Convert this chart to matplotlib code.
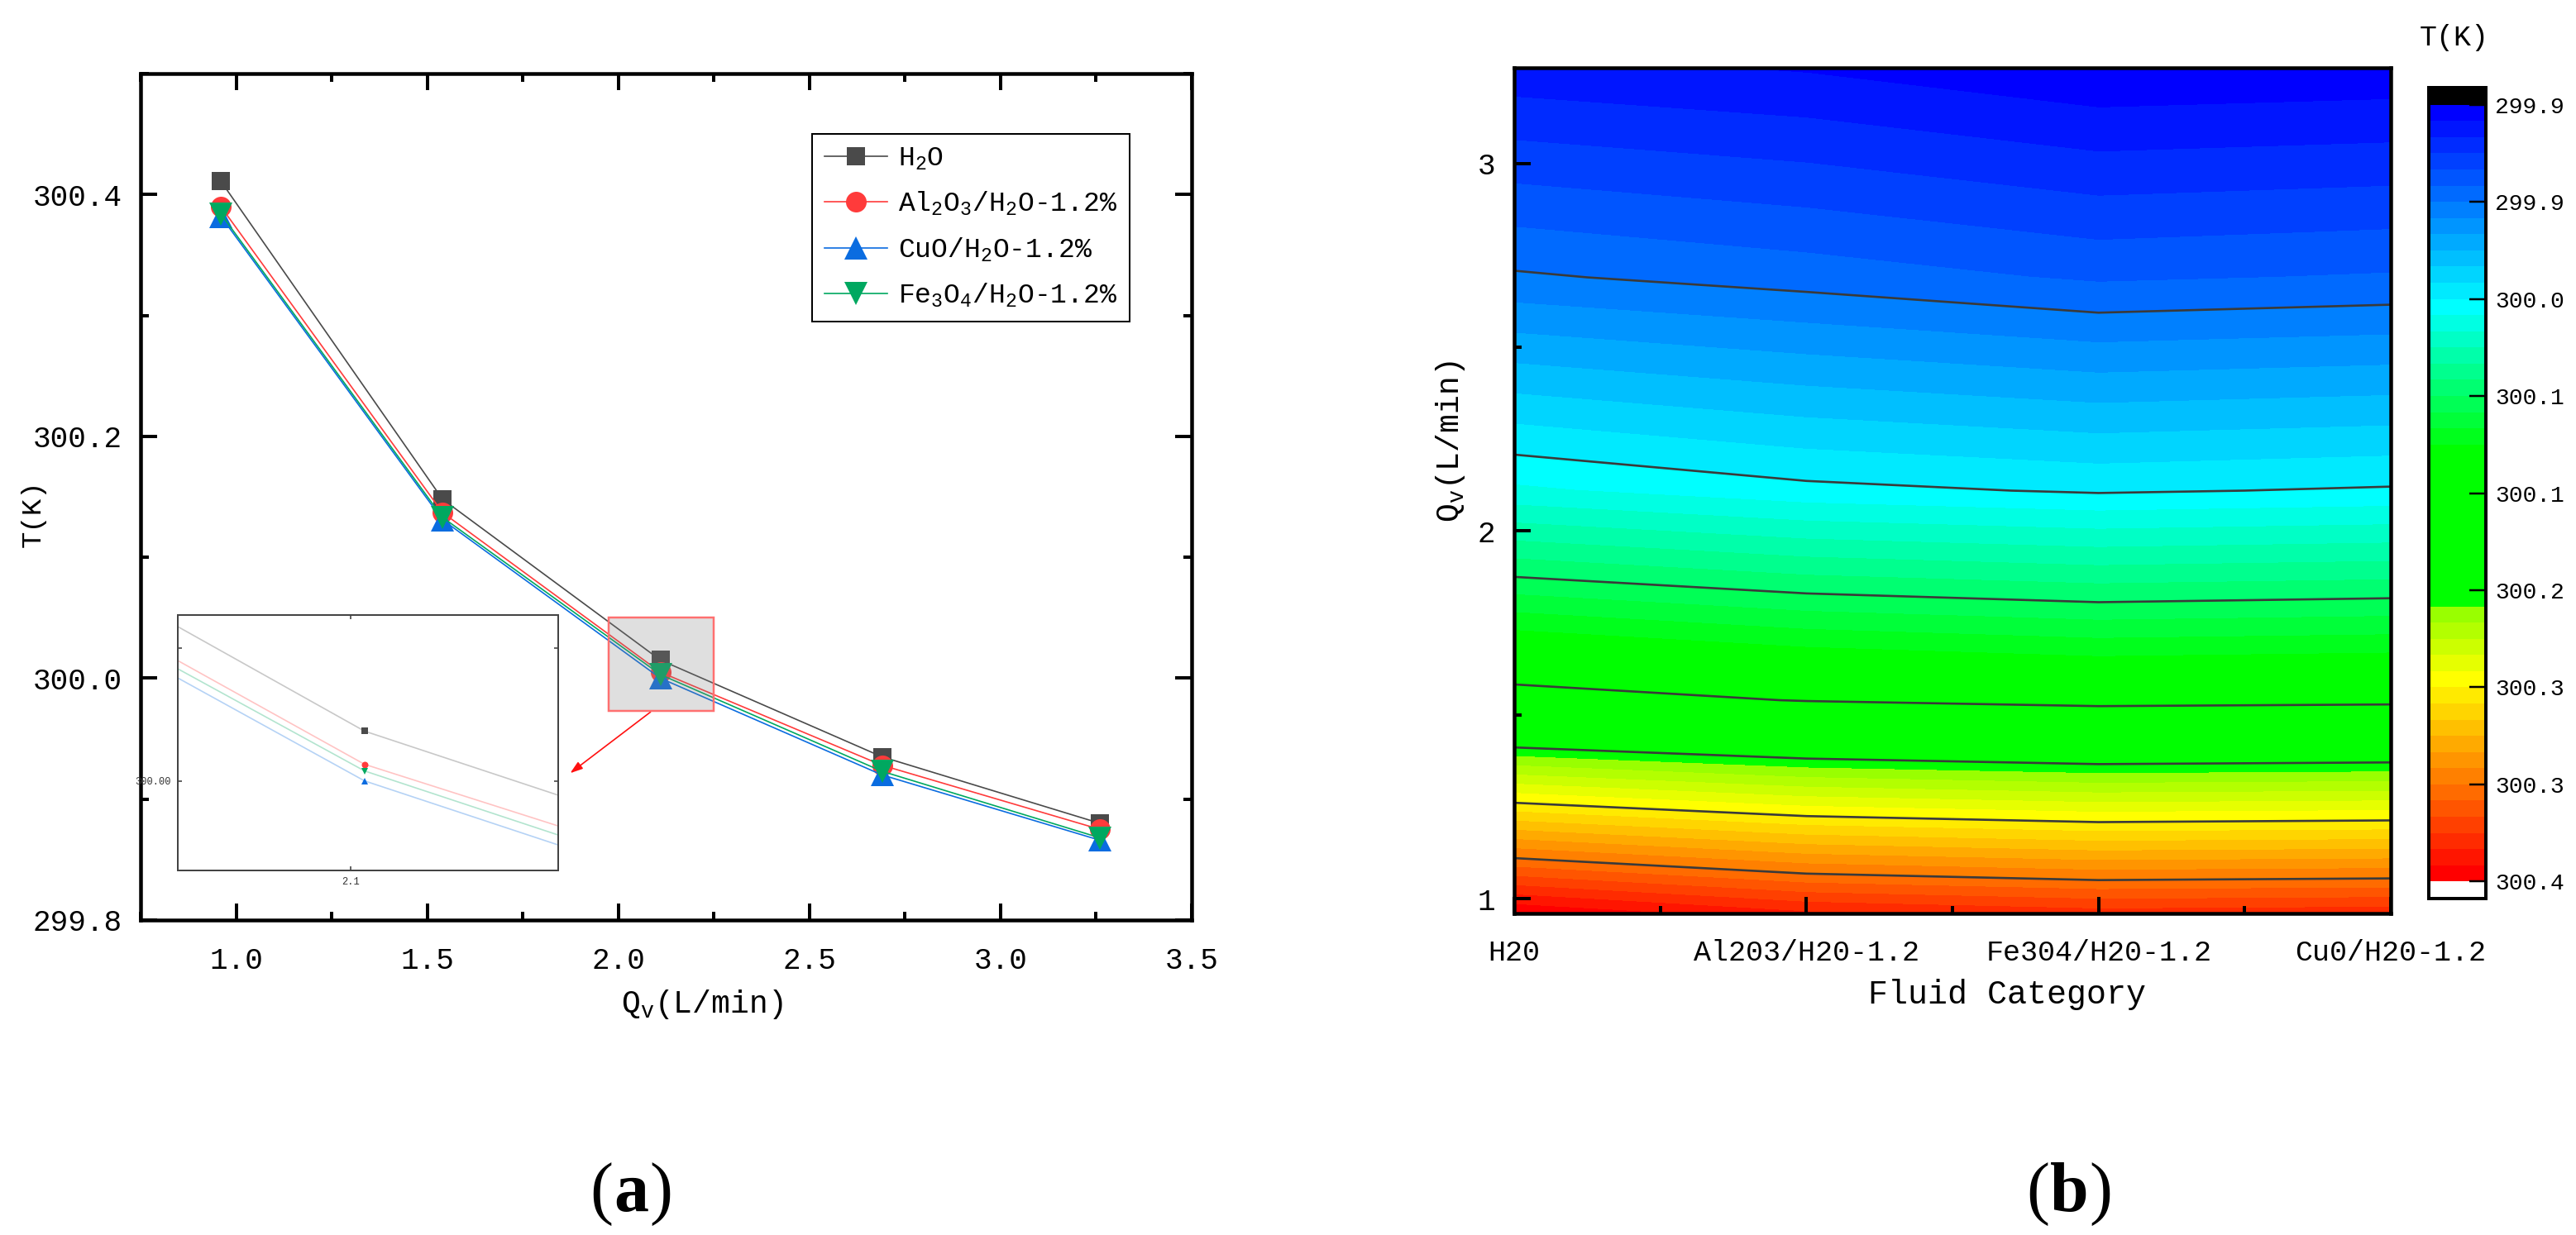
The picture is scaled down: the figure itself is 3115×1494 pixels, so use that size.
import numpy as np
import matplotlib
matplotlib.use("Agg")
import matplotlib.pyplot as plt
from matplotlib.colors import LinearSegmentedColormap, BoundaryNorm
from matplotlib.ticker import MultipleLocator, FixedLocator, FixedFormatter, FormatStrFormatter
from matplotlib.patches import Rectangle
from matplotlib.cm import ScalarMappable

FONT = "Liberation Mono"
plt.rcParams["font.family"] = [FONT, "DejaVu Sans Mono"]
plt.rcParams["mathtext.fontset"] = "custom"
plt.rcParams["mathtext.rm"] = FONT
plt.rcParams["mathtext.it"] = FONT + ":italic"
plt.rcParams["mathtext.bf"] = FONT + ":bold"

flow_rate = [0.96, 1.54, 2.11, 2.69, 3.26]
t_h2o = [300.411, 300.148, 300.015, 299.935, 299.880]
t_al2o3 = [300.390, 300.137, 300.005, 299.928, 299.875]
t_cuo = [300.382, 300.131, 300.000, 299.920, 299.866]
t_fe3o4 = [300.384, 300.133, 300.003, 299.923, 299.868]

series_names = [r"H$_2$O", r"Al$_2$O$_3$/H$_2$O-1.2%", r"CuO/H$_2$O-1.2%", r"Fe$_3$O$_4$/H$_2$O-1.2%"]
series_values = [t_h2o, t_al2o3, t_cuo, t_fe3o4]
series_colors = ["#4a4a4a", "#ff3b3b", "#0a6ce0", "#00a860"]
series_markers = ["s", "o", "^", "v"]
series_sizes = [22, 25, 28, 28]

categories = ["H20", "Al203/H20-1.2", "Fe304/H20-1.2", "Cu0/H20-1.2"]
category_pos = [1, 2, 3, 4]
# columns follow the contour chart's order
contour_columns = [t_h2o, t_al2o3, t_cuo, t_fe3o4]

cbar_labels = ["299.9", "299.9", "300.0", "300.1", "300.1", "300.2", "300.3", "300.3", "300.4"]
cbar_min, cbar_max = 299.865, 300.411

W, H = 3115, 1494
fig = plt.figure(figsize=(W / 100, H / 100), dpi=100)

def axes_px(l, t, r, b):
    return fig.add_axes([l / W, 1 - b / H, (r - l) / W, (b - t) / H])

def px(v):
    return v * 0.72

# ---------- panel a
L, T, R, B = 170, 89, 1441, 1113
ax = axes_px(L, T, R, B)
for vals, name, c, m, ms in zip(series_values, series_names, series_colors, series_markers, series_sizes):
    ax.plot(flow_rate, vals, color=c, lw=1.2, marker=m, ms=px(ms), mew=0, label=name)
ax.set_xlim(0.75, 3.5)
ax.set_ylim(299.8, 300.5)
ax.xaxis.set_major_locator(MultipleLocator(0.5))
ax.xaxis.set_minor_locator(MultipleLocator(0.25))
ax.yaxis.set_major_locator(MultipleLocator(0.2))
ax.yaxis.set_minor_locator(MultipleLocator(0.1))
ax.xaxis.set_major_formatter(FormatStrFormatter("%.1f"))
ax.yaxis.set_major_formatter(FormatStrFormatter("%.1f"))
ax.tick_params(which="major", direction="in", length=px(20), width=px(4), top=True, right=True, labelsize=px(36))
ax.tick_params(axis="x", which="major", pad=px(32))
ax.tick_params(axis="y", which="major", pad=px(22))
ax.tick_params(which="minor", direction="in", length=px(10), width=px(4), top=True, right=True)
for s in ax.spines.values():
    s.set_linewidth(px(4.5))
ax.set_xlabel(r"Q$_{\mathrm{v}}$(L/min)", fontsize=px(38), va="center")
ax.xaxis.set_label_coords((849 - L) / (R - L), 1 - (1215 - T) / (B - T))
ax.set_ylabel("T(K)", fontsize=px(34), va="center")
ax.yaxis.set_label_coords((40 - L) / (R - L), 1 - (621 - T) / (B - T))

leg = ax.legend(loc="upper left", bbox_to_anchor=((982 - L) / (R - L), 1 - (162 - T) / (B - T)), bbox_transform=ax.transAxes,
                fontsize=px(33), frameon=True, fancybox=False, framealpha=1, edgecolor="black",
                borderaxespad=0, borderpad=0.45, handlelength=2.3, handletextpad=0.4, labelspacing=0.66, numpoints=1)
leg.get_frame().set_linewidth(px(2))

# zoom region
rect_x = (1.975, 2.25)
rect_y = (299.973, 300.05)
ax.add_patch(Rectangle((rect_x[0], rect_y[0]), rect_x[1] - rect_x[0], rect_y[1] - rect_y[0], fc="#808080", ec="none",
                       alpha=0.25, lw=0, zorder=5))
ax.add_patch(Rectangle((rect_x[0], rect_y[0]), rect_x[1] - rect_x[0], rect_y[1] - rect_y[0], fc="none", ec="#ff7070",
                       lw=px(2.5), zorder=6))
ax.annotate("", xy=(1.874, 299.9215), xytext=(2.084, 299.972),
            arrowprops=dict(arrowstyle="-|>,head_length=0.9,head_width=0.3", color="#ff1010", lw=1.2, shrinkA=0, shrinkB=0))

# inset
ins = axes_px(215, 744, 675, 1053)
for vals, c, m in zip(series_values, series_colors, series_markers):
    ins.plot(flow_rate, vals, color=c, lw=1.2, alpha=0.3, zorder=1)
    ins.plot(flow_rate, vals, color=c, ls="none", marker=m, ms=px(8), mew=0, zorder=2)
ins.set_xlim(*rect_x)
ins.set_ylim(*rect_y)
ins.xaxis.set_major_locator(FixedLocator([2.1]))
ins.yaxis.set_major_locator(FixedLocator([300.0]))
ins.yaxis.set_minor_locator(FixedLocator([300.04]))
ins.xaxis.set_major_formatter(FixedFormatter(["2.1"]))
ins.yaxis.set_major_formatter(FixedFormatter(["300.00"]))
ins.tick_params(which="both", direction="in", top=True, right=True, length=px(5), width=px(1.5), labelsize=px(12), pad=px(8), colors="#333333")
for s in ins.spines.values():
    s.set_linewidth(px(2))
    s.set_color("#444444")

# ---------- panel b
L2, T2, R2, B2 = 1831, 82, 2891, 1105
axb = axes_px(L2, T2, R2, B2)
Z = np.array(contour_columns).T
levels = np.linspace(cbar_min, cbar_max, 49)
major_levels = levels[::6]
stops = [(0.0, "#0000ff"), (12/47, "#00ffff"), (21/47, "#00ff00"), (30/47, "#00ff00"), (30.01/47, "#80ff00"),
         (35/47, "#ffff00"), (41/47, "#ff8000"), (47/47, "#ff0000")]
cmap = LinearSegmentedColormap.from_list("bands", stops, N=48)
cmap.set_under("black")
cmap.set_over("white")
norm = BoundaryNorm(levels, 48)
cf = axb.contourf(category_pos, flow_rate, Z, levels=levels, cmap=cmap, norm=norm)
cf.set_edgecolor("face")
cf.set_linewidth(0.4)
axb.contour(category_pos, flow_rate, Z, levels=major_levels[1:-1], colors="#3a3a3a", linewidths=1.9)
axb.set_xlim(1, 4)
axb.set_ylim(0.96, 3.26)
axb.xaxis.set_major_locator(FixedLocator(category_pos))
axb.xaxis.set_major_formatter(FixedFormatter(categories))
axb.xaxis.set_minor_locator(MultipleLocator(0.5))
axb.yaxis.set_major_locator(MultipleLocator(1))
axb.yaxis.set_minor_locator(MultipleLocator(0.5))
axb.tick_params(which="major", direction="in", length=px(20), width=px(4), labelsize=px(35), pad=px(31))
axb.tick_params(which="minor", direction="in", length=px(9), width=px(4))
axb.tick_params(axis="y", which="major", labelsize=px(36), pad=px(23))
for s in axb.spines.values():
    s.set_linewidth(px(4.5))
axb.set_axisbelow(False)
axb.set_xlabel("Fluid Category", fontsize=px(40), va="center")
axb.xaxis.set_label_coords((2427 - L2) / (R2 - L2), 1 - (1203 - T2) / (B2 - T2))
axb.set_ylabel(r"Q$_{\mathrm{v}}$(L/min)", fontsize=px(38), va="center")
axb.yaxis.set_label_coords((1754 - L2) / (R2 - L2), 1 - (534 - T2) / (B2 - T2))

# colour bar
cax = axes_px(2937, 106, 3006, 1087)
cb = fig.colorbar(ScalarMappable(norm=norm, cmap=cmap), cax=cax, extend="both", extendfrac=0.022, extendrect=True,
                  spacing="proportional", ticks=list(major_levels), drawedges=False)
cax.invert_yaxis()
cb.ax.set_yticklabels(cbar_labels)
cb.ax.tick_params(which="both", direction="in", length=px(20), width=px(2.5), right=True, labelsize=px(28), pad=px(11))
cb.minorticks_off()
cb.outline.set_linewidth(px(4))
fig.text(2968 / W, 1 - 45 / H, "T(K)", fontsize=px(35), ha="center", va="center")

# panel labels
serif = ["Liberation Serif", "DejaVu Serif"]
def panel_label(xc, letter, half):
    y = 1 - 1435 / H
    fig.text((xc - half) / W, y, "(", fontsize=px(84), ha="right", va="center_baseline", family=serif)
    fig.text(xc / W, y, letter, fontsize=px(84), ha="center", va="center_baseline", family=serif, weight="bold")
    fig.text((xc + half) / W, y, ")", fontsize=px(84), ha="left", va="center_baseline", family=serif)

panel_label(763, "a", 22)
panel_label(2502, "b", 24)

fig.savefig("out.png", dpi=100, facecolor="white")
